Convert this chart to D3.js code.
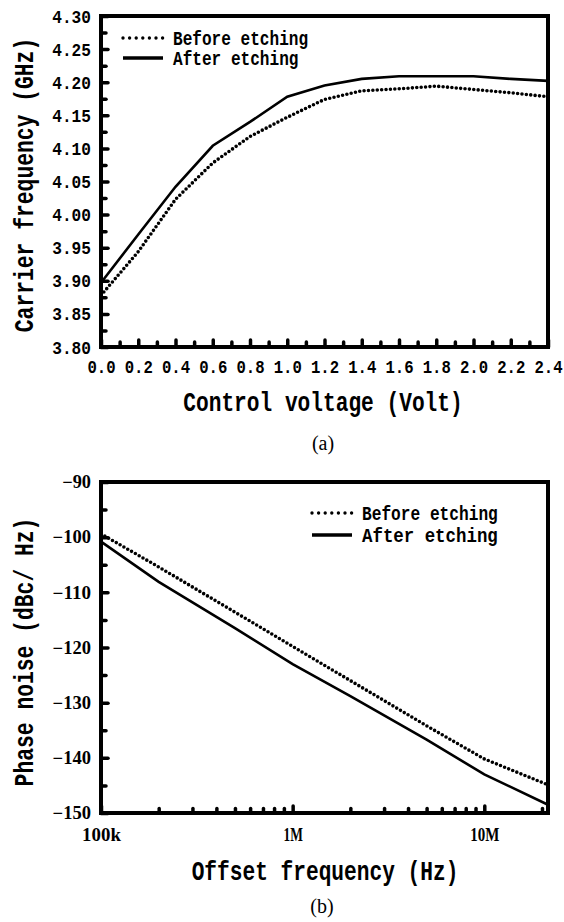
<!DOCTYPE html>
<html>
<head>
<meta charset="utf-8">
<script src="https://cdn.jsdelivr.net/npm/d3@7"></script>
<style>
body { margin: 0; background: #fff; }
</style>
</head>
<body>
<div id="chart"></div>
<script>
// (a) carrier frequency vs control voltage
var voltage    = [0.0, 0.2, 0.4, 0.6, 0.8, 1.0, 1.2, 1.4, 1.6, 1.8, 2.0, 2.2, 2.4];
var freqBefore = [3.878, 3.944, 4.023, 4.078, 4.118, 4.147, 4.174, 4.187, 4.190, 4.194, 4.189, 4.184, 4.178];
var freqAfter  = [3.897, 3.970, 4.042, 4.104, 4.140, 4.178, 4.195, 4.205, 4.209, 4.209, 4.209, 4.205, 4.202];
var voltTicks  = [0.0, 0.2, 0.4, 0.6, 0.8, 1.0, 1.2, 1.4, 1.6, 1.8, 2.0, 2.2, 2.4];
var freqTicks  = [3.80, 3.85, 3.90, 3.95, 4.00, 4.05, 4.10, 4.15, 4.20, 4.25, 4.30];

// (b) phase noise vs offset frequency
var offsetFreq  = [1e5, 2e5, 5e5, 1e6, 2e6, 5e6, 1e7, 2.15e7];
var noiseBefore = [-99.4, -105.4, -113.6, -119.8, -126.0, -134.2, -140.2, -144.9];
var noiseAfter  = [-100.8, -108.1, -116.5, -123.0, -128.8, -136.7, -143.0, -148.5];
var offsetTicks  = [1e5, 1e6, 1e7];
var offsetLabels = ["100k", "1M", "10M"];
var noiseTicks   = [-90, -100, -110, -120, -130, -140, -150];

var legendA = ["Before etching", "After etching"];
var legendB = ["Before etching", "After  etching"];

var mono = "'Liberation Mono', 'DejaVu Sans Mono', monospace";
var serif = "'Liberation Serif', 'DejaVu Serif', serif";

var svg = d3.select("#chart").append("svg")
  .attr("width", 564)
  .attr("height", 922);

// squeeze text to the narrow font of the original
function squeeze(sel, charW) {
  sel.each(function() {
    var t = d3.select(this);
    t.attr("textLength", t.text().length * charW)
     .attr("lengthAdjust", "spacingAndGlyphs");
  });
}

function styleAxis(g, w) {
  g.select(".domain").remove();
  g.selectAll(".tick line")
    .attr("stroke", "#000")
    .attr("stroke-width", w)
    .attr("stroke-linecap", "round");
}

function drawLine(g, xs, ys, x, y, dotted) {
  var line = d3.line()
    .x(function(d, i) { return x(xs[i]); })
    .y(function(d) { return y(d); });
  var p = g.append("path")
    .datum(ys)
    .attr("d", line)
    .attr("fill", "none")
    .attr("stroke", "#000");
  if (dotted) {
    p.attr("stroke-width", 3.6)
     .attr("stroke-dasharray", "0,4.4")
     .attr("stroke-linecap", "round");
  } else {
    p.attr("stroke-width", 2.6);
  }
}

function legend(g, names, x0, y0, gap, charW) {
  names.forEach(function(n, i) {
    var yy = y0 + i * gap;
    var l = g.append("line")
      .attr("x1", x0).attr("x2", x0 + 40)
      .attr("y1", yy).attr("y2", yy)
      .attr("stroke", "#000");
    if (i == 0) {
      l.attr("stroke-width", 3.4).attr("stroke-dasharray", "0,6.6").attr("stroke-linecap", "round");
    } else {
      l.attr("stroke-width", 3.4);
    }
    g.append("text")
      .text(n)
      .attr("x", x0 + 50)
      .attr("y", yy + 7)
      .style("font-family", mono)
      .style("font-weight", "bold")
      .style("font-size", "21px")
      .call(squeeze, charW);
  });
}

// ---------- chart (a) ----------
var xa = d3.scaleLinear().domain([0, 2.4]).range([101, 548]);
var ya = d3.scaleLinear().domain([3.8, 4.3]).range([347, 16]);

var ga = svg.append("g");

ga.append("g")
  .attr("transform", "translate(0,347)")
  .call(d3.axisBottom(xa).tickValues(d3.range(0.1, 2.4, 0.2)).tickSize(-5).tickFormat(""))
  .call(styleAxis, 3.5);
ga.append("g")
  .attr("transform", "translate(0,347)")
  .call(d3.axisBottom(xa).tickValues(voltTicks).tickSize(-7).tickPadding(13).tickFormat(d3.format(".1f")))
  .call(styleAxis, 3.5)
  .selectAll("text")
    .style("font-family", mono).style("font-weight", "bold").style("font-size", "19px")
    .attr("fill", "#000")
    .call(squeeze, 9.4);

ga.append("g")
  .attr("transform", "translate(101,0)")
  .call(d3.axisLeft(ya).tickValues(d3.range(3.825, 4.3, 0.05)).tickSize(-5).tickFormat(""))
  .call(styleAxis, 3.5);
ga.append("g")
  .attr("transform", "translate(101,0)")
  .call(d3.axisLeft(ya).tickValues(freqTicks).tickSize(-7).tickPadding(10).tickFormat(d3.format(".2f")))
  .call(styleAxis, 3.5)
  .selectAll("text")
    .style("font-family", mono).style("font-weight", "bold").style("font-size", "19px")
    .attr("fill", "#000")
    .call(squeeze, 9.7);

ga.append("rect")
  .attr("x", xa(0)).attr("y", ya(4.3))
  .attr("width", xa(2.4) - xa(0)).attr("height", ya(3.8) - ya(4.3))
  .attr("fill", "none").attr("stroke", "#000").attr("stroke-width", 4);

drawLine(ga, voltage, freqBefore, xa, ya, true);
drawLine(ga, voltage, freqAfter, xa, ya, false);
legend(ga, legendA, 123, 38, 20, 9.65);

ga.append("text")
  .text("Control voltage (Volt)")
  .attr("x", 323).attr("y", 411)
  .attr("text-anchor", "middle")
  .style("font-family", mono).style("font-weight", "bold").style("font-size", "28px")
  .call(squeeze, 12.7);
ga.append("text")
  .text("Carrier frequency (GHz)")
  .attr("transform", "translate(33,185) rotate(-90)")
  .attr("text-anchor", "middle")
  .style("font-family", mono).style("font-weight", "bold").style("font-size", "28px")
  .call(squeeze, 12.8);
ga.append("text")
  .text("(a)")
  .attr("x", 323).attr("y", 450)
  .attr("text-anchor", "middle")
  .style("font-family", serif).style("font-size", "20px");

// ---------- chart (b) ----------
var xb = d3.scaleLog().domain([1e5, 2.15e7]).range([101, 548]);
var yb = d3.scaleLinear().domain([-150, -90]).range([813, 482]);

var gb = svg.append("g");

var minorB = [];
[1e5, 1e6, 1e7].forEach(function(dec) {
  d3.range(2, 10).forEach(function(k) { if (dec * k < 2.15e7) minorB.push(dec * k); });
});

gb.append("g")
  .attr("transform", "translate(0,813)")
  .call(d3.axisBottom(xb).tickValues(minorB).tickSize(-4.5).tickFormat(""))
  .call(styleAxis, 3.5);
gb.append("g")
  .attr("transform", "translate(0,813)")
  .call(d3.axisBottom(xb).tickValues(offsetTicks).tickSize(-7).tickPadding(15)
    .tickFormat(function(d, i) { return offsetLabels[i]; }))
  .call(styleAxis, 3.5)
  .selectAll("text")
    .style("font-family", serif).style("font-weight", "bold").style("font-size", "18px")
    .attr("fill", "#000")
    .call(squeeze, 9.7);

gb.append("g")
  .attr("transform", "translate(101,0)")
  .call(d3.axisLeft(yb).tickValues(d3.range(-145, -90, 10)).tickSize(-5).tickFormat(""))
  .call(styleAxis, 3.5);
gb.append("g")
  .attr("transform", "translate(101,0)")
  .call(d3.axisLeft(yb).tickValues(noiseTicks).tickSize(-7).tickPadding(10))
  .call(styleAxis, 3.5)
  .selectAll("text")
    .style("font-family", serif).style("font-weight", "bold").style("font-size", "18px")
    .attr("fill", "#000")
    .call(squeeze, 9.6);

gb.append("rect")
  .attr("x", xb(1e5)).attr("y", yb(-90))
  .attr("width", xb(2.15e7) - xb(1e5)).attr("height", yb(-150) - yb(-90))
  .attr("fill", "none").attr("stroke", "#000").attr("stroke-width", 4);

drawLine(gb, offsetFreq, noiseBefore, xb, yb, true);
drawLine(gb, offsetFreq, noiseAfter, xb, yb, false);
legend(gb, legendB, 312, 513, 22, 9.7);

gb.append("text")
  .text("Offset frequency (Hz)")
  .attr("x", 325).attr("y", 880)
  .attr("text-anchor", "middle")
  .style("font-family", mono).style("font-weight", "bold").style("font-size", "28px")
  .call(squeeze, 12.7);
gb.append("text")
  .text("Phase noise (dBc/ Hz)")
  .attr("transform", "translate(33,652) rotate(-90)")
  .attr("text-anchor", "middle")
  .style("font-family", mono).style("font-weight", "bold").style("font-size", "28px")
  .call(squeeze, 12.8);
gb.append("text")
  .text("(b)")
  .attr("x", 322).attr("y", 913)
  .attr("text-anchor", "middle")
  .style("font-family", serif).style("font-size", "20px");
</script>
</body>
</html>
